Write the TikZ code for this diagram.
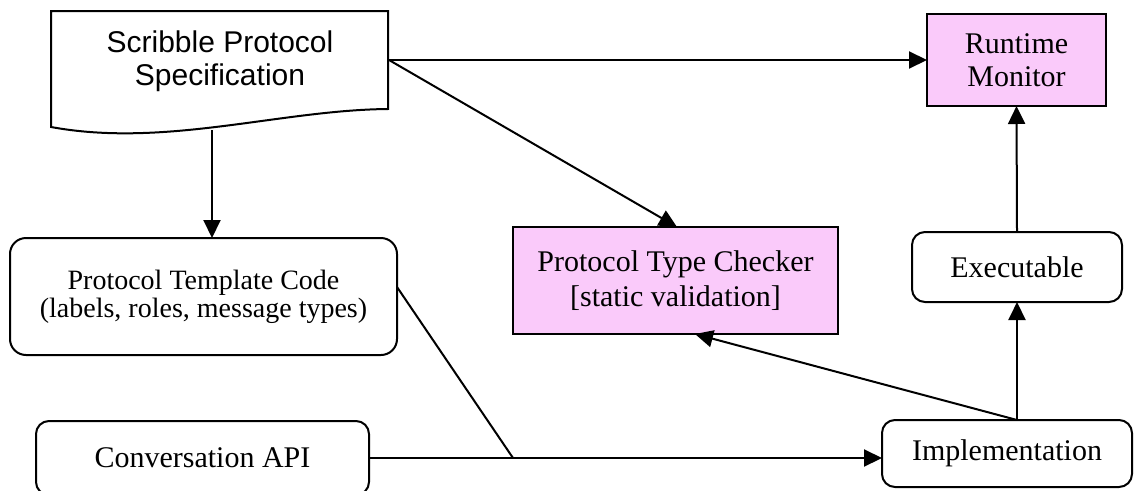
\documentclass[tikz,border=0pt]{standalone}
\usepackage{fontspec}
\setmainfont{Liberation Serif}
\newfontfamily\arialfont{Liberation Sans}
\usetikzlibrary{arrows.meta}
\definecolor{boxpink}{RGB}{250,202,250}
\begin{document}
\begin{tikzpicture}[x=1pt,y=-1pt,
  every node/.style={inner sep=0pt,outer sep=0pt,align=center,font=\fontsize{30}{33}\selectfont},
  rbox/.style={draw,line width=2pt,rounded corners=13pt},
  pbox/.style={draw,line width=2pt,fill=boxpink},
  conn/.style={line width=2pt},
  arr/.style={conn,-{Triangle[length=18pt,width=17pt]}}]
\useasboundingbox (0,0) rectangle (1134,490);
% Scribble document shape
\draw[line width=2pt,line join=miter] (51,11) -- (388,11) -- (388,109)
  .. controls (280,110) and (165,148) .. (51,127) -- cycle;
\node[font=\arialfont\fontsize{30}{33}\selectfont] (scribble) at (220,61) {Scribble Protocol\\Specification};
\coordinate (sright) at (389,60);
\coordinate (sbot) at (212,130);
% boxes
\node[pbox,minimum width=179pt,minimum height=92pt] (runtime) at (1016.5,60) {Runtime\\Monitor};
\node[pbox,minimum width=325pt,minimum height=107pt,font=\fontsize{30}{35}\selectfont] (ptc) at (675.5,280.5) {Protocol Type Checker\\{}[static validation]};
\node[rbox,rounded corners=16pt,minimum width=387pt,minimum height=117pt,font=\fontsize{28}{28}\selectfont] (template) at (203.5,296.5) {Protocol Template Code\\(labels, roles, message types)};
\node[rbox,minimum width=210pt,minimum height=70pt] (exec) at (1017,267) {Executable};
\node[rbox,minimum width=333pt,minimum height=74pt] (api) at (202.5,458) {Conversation API};
\node[rbox,minimum width=250pt,minimum height=67pt] (impl) at (1007,453.5) {Implementation};
% connectors
\coordinate (join) at (513,458);
\coordinate (itop) at (1017,420);
\draw[arr] (sright) -- (runtime.west);
\draw[arr] (sright) -- (677,227);
\draw[arr] (sbot) -- (template.north -| sbot);
\draw[conn] (template.east |- 0,287) -- (join);
\draw[arr] (api.east) -- (impl.west |- api.east);
\draw[arr] (itop) -- (exec.south);
\draw[arr] (exec.north) -- (runtime.south);
\draw[arr] (itop) -- (695,334);
\end{tikzpicture}
\end{document}
